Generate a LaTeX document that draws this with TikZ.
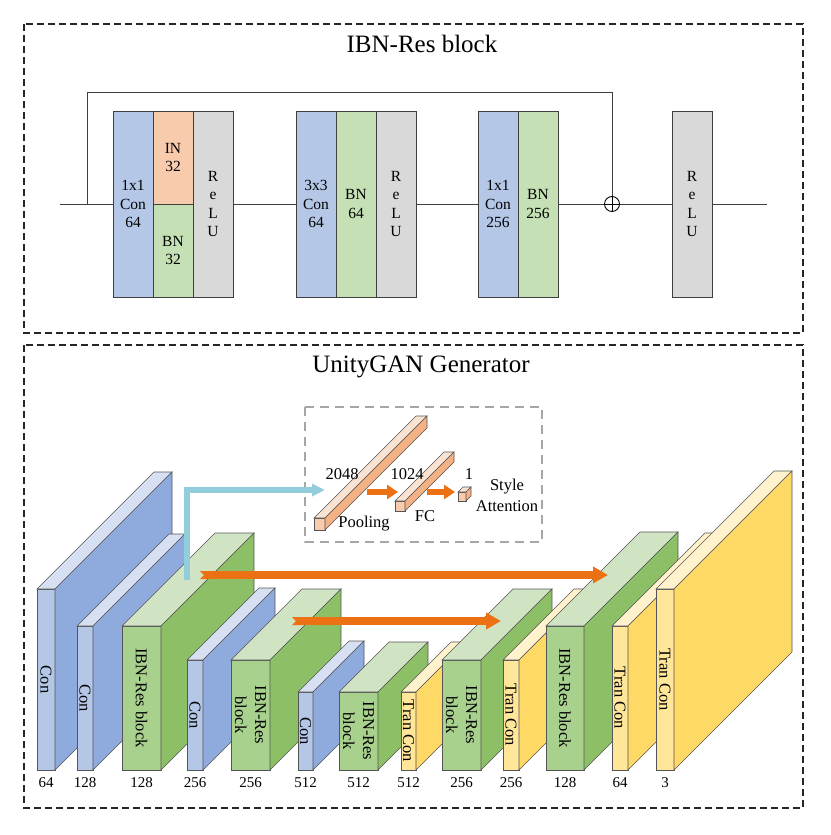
\documentclass[tikz,border=0pt]{standalone}
\usepackage{fontspec}
\setmainfont{Liberation Serif}
\usetikzlibrary{positioning,arrows.meta}

\definecolor{edge}{HTML}{3F3F3F}
\definecolor{edgeb}{HTML}{555555}
\definecolor{colblue}{HTML}{B4C7E7}
\definecolor{colpeach}{HTML}{F8CBAD}
\definecolor{colgreen}{HTML}{C5E0B4}
\definecolor{colgray}{HTML}{D9D9D9}
\definecolor{bluefront}{HTML}{B4C7E7}
\definecolor{blueside}{HTML}{8FAADC}
\definecolor{bluetop}{HTML}{D6E0F2}
\definecolor{greenfront}{HTML}{A9D18E}
\definecolor{greenside}{HTML}{8CBF66}
\definecolor{greentop}{HTML}{D0E4C3}
\definecolor{yellowfront}{HTML}{FFE699}
\definecolor{yellowside}{HTML}{FFD966}
\definecolor{yellowtop}{HTML}{FFF2CC}
\definecolor{poolfront}{HTML}{F8CBAD}
\definecolor{poolside}{HTML}{F4B183}
\definecolor{pooltop}{HTML}{FBE3D3}
\definecolor{skiporange}{HTML}{EB7114}
\definecolor{styleblue}{HTML}{92CDDC}

\newcommand{\lbl}{\fontsize{15.5}{18.5}\selectfont}
\newcommand{\vlbl}{\fontsize{16.5}{20}\selectfont}
\newcommand{\nlbl}{\fontsize{15}{18}\selectfont}
\newcommand{\ilbl}{\fontsize{16.5}{21}\selectfont}
\newcommand{\ttl}{\fontsize{25}{30}\selectfont}

\tikzset{
  frame/.style={draw=black!85,line width=1.1pt,dash pattern=on 7pt off 4pt},
  insetframe/.style={draw=black!35,line width=1.3pt,dash pattern=on 9pt off 6pt},
  title/.style={font=\ttl,inner sep=0pt,anchor=base},
  col/.style={draw=edge,line width=0.9pt,minimum width=40,minimum height=186,
    inner sep=0pt,outer sep=0pt,align=center,font=\lbl},
  conv/.style={col,fill=colblue},
  inorm/.style={col,fill=colpeach},
  bnorm/.style={col,fill=colgreen},
  relu/.style={col,fill=colgray},
  wire/.style={draw=edge,line width=0.9pt},
  sum/.style={circle,draw=black,line width=0.9pt,minimum size=15,inner sep=0pt,
    path picture={\draw[line width=0.9pt] (path picture bounding box.north) -- (path picture bounding box.south)
      (path picture bounding box.west) -- (path picture bounding box.east);}},
  face/.style={draw=edgeb,line width=0.6pt,inner sep=0pt,outer sep=0pt},
  vlab/.style={rotate=-90,align=center,font=\vlbl,inner sep=0pt},
  num/.style={font=\nlbl,inner sep=0pt,align=center},
  itext/.style={font=\ilbl,inner sep=0pt,align=center},
  skiparrow/.style={draw=skiporange,line width=8pt,
    arrows={Triangle Cap[reversed]-Triangle[length=15pt,width=16pt]}},
  fcarrow/.style={draw=skiporange,line width=6pt,
    arrows={-Triangle[length=11pt,width=14pt]}},
  stylearrow/.style={draw=styleblue,line width=5.5pt,
    arrows={-Triangle[length=13pt,width=12pt]}}
}

% name, colour, x, width, top, depth, text, channels
\newcommand{\netlayer}[8]{%
\node[face,fill=#2front,minimum width=#4,minimum height=770-#5,anchor=north west](#1) at (#3,#5) {};
\filldraw[face,fill=#2top] (#1.north west) -- ++(#6,-#6) -- ++(#4,0) -- (#1.north east) -- cycle;
\filldraw[face,fill=#2side] (#1.north east) -- ++(#6,-#6) -- ++(0,770-#5) -- (#1.south east) -- cycle;
\node[vlab](#1t) at (#1.center) {#7};
\node[num,below=7pt of #1](#1n) {#8};
}

% name, x, y, width, height, depth
\newcommand{\featbar}[6]{%
\node[face,fill=poolfront,minimum width=#4,minimum height=#5,anchor=north west](#1) at (#2,#3) {};
\filldraw[face,fill=pooltop] (#1.north west) -- ++(#6,-#6) -- ++(#4,0) -- (#1.north east) -- cycle;
\filldraw[face,fill=poolside] (#1.north east) -- ++(#6,-#6) -- ++(0,#5) -- (#1.south east) -- cycle;
}

\begin{document}
\begin{tikzpicture}[x=1pt,y=-1pt]
\useasboundingbox (0,0) rectangle (830,835);

% IBN-Res block
\draw[frame] (24,24) rectangle (803,333);
\node[title](t1) at (422,52) {IBN-Res block};

\node[conv](c1) at (133,204) {1x1\\Con\\64};
\node[inorm,minimum height=93,anchor=north west](in1) at (c1.north east) {IN\\32};
\node[bnorm,minimum height=93,anchor=north west](bn1) at (in1.south west) {BN\\32};
\node[relu,anchor=north west](r1) at (in1.north east) {R\\e\\L\\U};

\node[conv](c2) at (316,204) {3x3\\Con\\64};
\node[bnorm,right=0pt of c2](bn2) {BN\\64};
\node[relu,right=0pt of bn2](r2) {R\\e\\L\\U};

\node[conv](c3) at (498,204) {1x1\\Con\\256};
\node[bnorm,right=0pt of c3](bn3) {BN\\256};

\node[sum](add) at (612,204) {};
\node[relu](r3) at (692,204) {R\\e\\L\\U};

\coordinate (x0) at (60,204);
\coordinate (split) at (87,204);
\coordinate (y0) at (767,204);

\draw[wire] (x0) -- (c1);
\draw[wire] (r1) -- (c2);
\draw[wire] (r2) -- (c3);
\draw[wire] (bn3) -- (add);
\draw[wire] (add) -- (r3);
\draw[wire] (r3) -- (y0);
\draw[wire] (split) -- ++(0,-112) -| (add);

% UnityGAN Generator
\draw[frame] (24,345) rectangle (803,808);
\node[title](t2) at (421,372) {UnityGAN Generator};

\netlayer{con1}{blue}{37}{18}{589}{117}{Con}{64}
\netlayer{con2}{blue}{77}{16}{626}{92}{Con}{128}
\netlayer{ibn1}{green}{122}{39}{626}{93}{IBN-Res block}{128}
\netlayer{con3}{blue}{187}{16}{660}{72}{Con}{256}
\netlayer{ibn2}{green}{231}{39}{660}{71}{IBN-Res\\block}{256}
\netlayer{con4}{blue}{298}{15}{692}{51}{Con}{512}
\netlayer{ibn3}{green}{339}{39}{692}{50}{IBN-Res\\block}{512}
\netlayer{tc1}{yellow}{401}{15}{692}{50}{Tran Con}{512}
\netlayer{ibn4}{green}{442}{39}{660}{71}{IBN-Res\\block}{256}
\netlayer{tc2}{yellow}{503}{16}{660}{71}{Tran Con}{256}
\netlayer{ibn5}{green}{546}{38}{626}{94}{IBN-Res block}{128}
\netlayer{tc3}{yellow}{612}{16}{626}{93}{Tran Con}{64}
\netlayer{tc4}{yellow}{656}{18}{589}{118}{Tran Con}{3}

% style attention
\draw[insetframe] (305,407) rectangle (542,542);
\featbar{pool}{314}{518}{11}{12}{102}
\featbar{fc}{395}{501}{10}{10}{49}
\featbar{att}{458}{492}{8}{9}{5}
\node[itext](n2048) at (342,474) {2048};
\node[itext](n1024) at (407,474) {1024};
\node[itext](n1) at (469,474) {1};
\node[itext](lpool) at (364,524) {Pooling};
\node[itext](lfc) at (425,516) {FC};
\node[itext](latt) at (507,495) {Style\\Attention};

\coordinate (pa) at (367,492);
\coordinate (pb) at (398,492);
\coordinate (fa) at (427,492);
\coordinate (fb) at (455,492);
\draw[fcarrow] (pa) -- (pb);
\draw[fcarrow] (fa) -- (fb);

\coordinate (sa) at (187,580);
\coordinate (sb) at (325,490);
\draw[stylearrow] (sa) |- (sb);

\coordinate (ka) at (200,575);
\coordinate (kb) at (608,575);
\coordinate (la) at (292,621);
\coordinate (lb) at (501,621);
\draw[skiparrow] (ka) -- (kb);
\draw[skiparrow] (la) -- (lb);

\end{tikzpicture}
\end{document}
